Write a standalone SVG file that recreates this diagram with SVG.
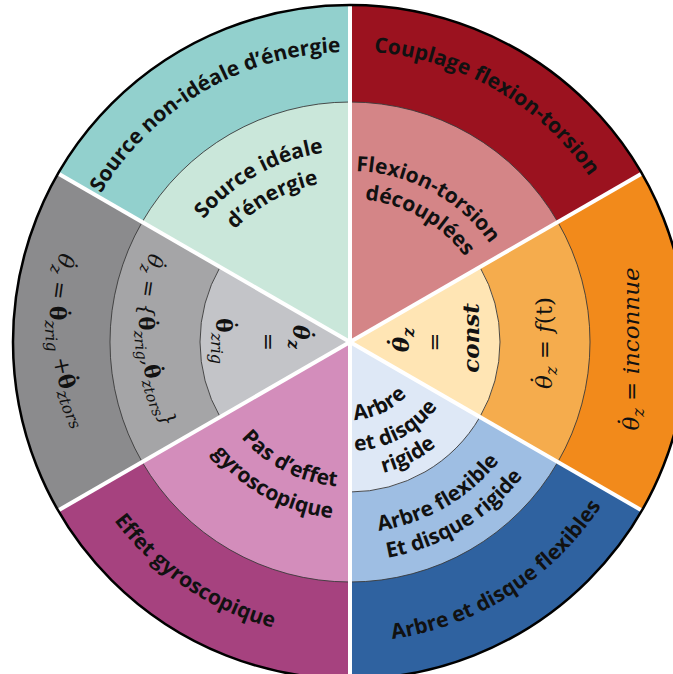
<svg xmlns="http://www.w3.org/2000/svg" width="673" height="674" viewBox="0 0 673 674">
<style>
.lbl{font-family:"Open Sans","Noto Sans",sans-serif;font-weight:700;font-size:21px;fill:#111}
.math{font-family:"DejaVu Serif","Liberation Serif",serif;font-style:italic;fill:#111}
.up{font-style:normal;font-weight:700}
.ring{stroke:#3a3a3a;stroke-width:0.9}
.sep{stroke:#fff;stroke-width:4}
</style>
<defs>
<path id="p1" d="M63.98,294.14 A290,290 0 0 1 446.80,68.63"/>
<path id="p2" d="M250.47,68.55 A291,291 0 0 1 636.58,291.47"/>
<path id="p4" d="M259.79,628.12 A300,300 0 0 0 647.43,381.16"/>
<path id="p5" d="M55.62,372.94 A296,296 0 0 0 431.59,626.53"/>
<path id="p6" d="M162.51,305.55 A191,191 0 0 1 418.45,163.69"/>
<path id="p7" d="M192.23,309.90 A161,161 0 0 1 409.01,192.20"/>
<path id="p8" d="M287.33,182.90 A171,171 0 0 1 517.57,307.91"/>
<path id="p9" d="M300.39,207.88 A143,143 0 0 1 490.70,316.43"/>
<path id="p10" d="M208.72,374.62 A145,145 0 0 0 406.66,475.47"/>
<path id="p11" d="M176.55,377.29 A177,177 0 0 0 414.87,506.68"/>
<path id="p12" d="M284.67,521.48 A191,191 0 0 0 538.10,375.17"/>
<path id="p13" d="M278.70,549.07 A219,219 0 0 0 566.30,376.26"/>
<path id="p14" d="M317.04,412.69 A78,78 0 0 0 425.34,362.19"/>
<path id="p15" d="M309.17,443.06 A109,109 0 0 0 456.62,364.66"/>
<path id="p16" d="M297.25,466.27 A135,135 0 0 0 481.54,372.37"/>
<path id="pL1" d="M62.5,245 Q30.7,340 79.5,435"/>
<path id="pL2" d="M153.9,240 Q117.5,340 169.9,440"/>
</defs>
<rect width="673" height="674" fill="#fff"/>

<g id="sector-source">
<path d="M350,342 L58.16,173.5 A337,337 0 0 1 350,5 Z" fill="#92D0CD"/>
<path class="ring" d="M350,342 L142.15,222 A240,240 0 0 1 350,102 Z" fill="#CAE7DA"/>
<text class="lbl"><textPath href="#p1" startOffset="50%" text-anchor="middle">Source non-idéale d’énergie</textPath></text>
<text class="lbl"><textPath href="#p6" startOffset="50%" text-anchor="middle">Source idéale</textPath></text>
<text class="lbl"><textPath href="#p7" startOffset="50%" text-anchor="middle">d’énergie</textPath></text>
</g>

<g id="sector-couplage">
<path d="M350,342 L350,5 A337,337 0 0 1 641.84,173.5 Z" fill="#9B121F"/>
<path class="ring" d="M350,342 L350,102 A240,240 0 0 1 557.85,222 Z" fill="#D48587"/>
<text class="lbl"><textPath href="#p2" startOffset="50%" text-anchor="middle">Couplage flexion-torsion</textPath></text>
<text class="lbl"><textPath href="#p8" startOffset="50%" text-anchor="middle">Flexion-torsion</textPath></text>
<text class="lbl"><textPath href="#p9" startOffset="50%" text-anchor="middle">découplées</textPath></text>
</g>

<g id="sector-vitesse">
<path d="M350,342 L641.84,173.5 A337,337 0 0 1 641.84,510.5 Z" fill="#F28A1B"/>
<path class="ring" d="M350,342 L557.85,222 A240,240 0 0 1 557.85,462 Z" fill="#F5AC4D"/>
<path class="ring" d="M350,342 L479.9,267 A150,150 0 0 1 479.9,417 Z" fill="#FFE5B4"/>
<text class="math" font-size="23" text-anchor="middle" transform="translate(639,349) rotate(-90)">θ<tspan dx="-12.7" dy="-4.2">˙</tspan><tspan dx="1.2" dy="4.2" font-size="16" baseline-shift="-5">z</tspan> = inconnue</text>
<text class="math" font-size="23" text-anchor="middle" transform="translate(552,343) rotate(-90)">θ<tspan dx="-12.7" dy="-4.2">˙</tspan><tspan dx="1.2" dy="4.2" font-size="16" baseline-shift="-5">z</tspan> = f<tspan font-style="normal">(t)</tspan></text>
<text class="math" font-size="23" font-weight="700" text-anchor="middle" transform="translate(409,340) rotate(-90)">θ<tspan dx="-12.7" dy="-4.2">˙</tspan><tspan dx="1.2" dy="4.2" font-size="16" baseline-shift="-5">z</tspan></text>
<text class="math" font-size="23" text-anchor="middle" transform="translate(442,342) rotate(-90)">=</text>
<text class="math" font-size="23" font-weight="700" text-anchor="middle" transform="translate(479,338) rotate(-90)">const</text>
</g>

<g id="sector-arbre">
<path d="M350,342 L641.84,510.5 A337,337 0 0 1 350,679 Z" fill="#2F62A0"/>
<path class="ring" d="M350,342 L557.85,462 A240,240 0 0 1 350,582 Z" fill="#9EBEE3"/>
<path class="ring" d="M350,342 L479.9,417 A150,150 0 0 1 350,492 Z" fill="#DEE8F6"/>
<text class="lbl"><textPath href="#p4" startOffset="50%" text-anchor="middle">Arbre et disque flexibles</textPath></text>
<text class="lbl"><textPath href="#p12" startOffset="50%" text-anchor="middle">Arbre flexible</textPath></text>
<text class="lbl"><textPath href="#p13" startOffset="50%" text-anchor="middle">Et disque rigide</textPath></text>
<text class="lbl"><textPath href="#p14" startOffset="50%" text-anchor="middle">Arbre</textPath></text>
<text class="lbl"><textPath href="#p15" startOffset="50%" text-anchor="middle">et disque</textPath></text>
<text class="lbl"><textPath href="#p16" startOffset="50%" text-anchor="middle">rigide</textPath></text>
</g>

<g id="sector-gyro">
<path d="M350,342 L350,679 A337,337 0 0 1 58.16,510.5 Z" fill="#A6427F"/>
<path class="ring" d="M350,342 L350,582 A240,240 0 0 1 142.15,462 Z" fill="#D38DBB"/>
<text class="lbl"><textPath href="#p5" startOffset="50%" text-anchor="middle">Effet gyroscopique</textPath></text>
<text class="lbl"><textPath href="#p10" startOffset="50%" text-anchor="middle">Pas d’effet</textPath></text>
<text class="lbl"><textPath href="#p11" startOffset="50%" text-anchor="middle">gyroscopique</textPath></text>
</g>

<g id="sector-torsion">
<path d="M350,342 L58.16,510.5 A337,337 0 0 1 58.16,173.5 Z" fill="#8B8B8D"/>
<path class="ring" d="M350,342 L142.15,462 A240,240 0 0 1 142.15,222 Z" fill="#A5A5A7"/>
<path class="ring" d="M350,342 L220.1,417 A150,150 0 0 1 220.1,267 Z" fill="#C3C4C8"/>
<text class="math" font-size="22"><textPath href="#pL1" startOffset="50%" text-anchor="middle">θ<tspan dx="-12.1" dy="-4">˙</tspan><tspan dx="1.1" dy="4" font-size="16" baseline-shift="-5">z</tspan> = <tspan class="up">θ<tspan dx="-13.2" dy="-4">˙</tspan></tspan><tspan dx="2.2" dy="4" font-size="16" baseline-shift="-5">zrig</tspan> +<tspan class="up">θ<tspan dx="-13.2" dy="-4">˙</tspan></tspan><tspan dx="2.2" dy="4" font-size="16" baseline-shift="-5">ztors</tspan></textPath></text>
<text class="math" font-size="21"><textPath href="#pL2" startOffset="50%" text-anchor="middle">θ<tspan dx="-11.6" dy="-3.8">˙</tspan><tspan dx="1.05" dy="3.8" font-size="15" baseline-shift="-5">z</tspan> = {<tspan class="up">θ<tspan dx="-12.6" dy="-3.8">˙</tspan></tspan><tspan dx="2.1" dy="3.8" font-size="15" baseline-shift="-5">zrig</tspan>,<tspan class="up">θ<tspan dx="-12.6" dy="-3.8">˙</tspan></tspan><tspan dx="2.1" dy="3.8" font-size="15" baseline-shift="-5">ztors</tspan>}</textPath></text>
<text class="math" font-size="22" font-weight="700" text-anchor="middle" transform="translate(293,337) rotate(90)">θ<tspan dx="-12.1" dy="-4">˙</tspan><tspan dx="1.1" dy="4" font-size="16" baseline-shift="-5">z</tspan></text>
<text class="math" font-size="22" text-anchor="middle" transform="translate(261,342) rotate(90)">=</text>
<text class="math" font-size="22" text-anchor="middle" transform="translate(216,341) rotate(90)"><tspan class="up">θ<tspan dx="-13.2" dy="-4">˙</tspan></tspan><tspan dx="2.2" dy="4" font-size="16" baseline-shift="-5">zrig</tspan></text>
</g>

<g id="separators">
<line class="sep" x1="350" y1="342" x2="350" y2="3"/>
<line class="sep" x1="350" y1="342" x2="350" y2="674"/>
<line class="sep" x1="350" y1="342" x2="643.6" y2="172.5"/>
<line class="sep" x1="350" y1="342" x2="643.6" y2="511.5"/>
<line class="sep" x1="350" y1="342" x2="56.4" y2="511.5"/>
<line class="sep" x1="350" y1="342" x2="56.4" y2="172.5"/>
</g>
<circle cx="350" cy="342" r="337" fill="none" stroke="#000" stroke-width="2.5"/>
</svg>
